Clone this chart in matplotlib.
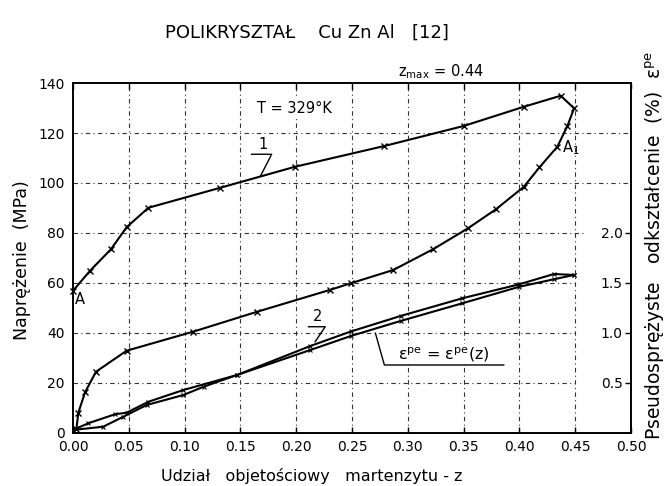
import matplotlib
matplotlib.use("Agg")
import matplotlib.pyplot as plt

# ---- data ----
x_ticks = [0.00, 0.05, 0.10, 0.15, 0.20, 0.25, 0.30, 0.35, 0.40, 0.45, 0.50]
x_tick_labels = ["0.00", "0.05", "0.10", "0.15", "0.20", "0.25", "0.30", "0.35", "0.40", "0.45", "0.50"]
y_ticks = [0, 20, 40, 60, 80, 100, 120, 140]
y2_ticks = [0.5, 1.0, 1.5, 2.0]
y2_tick_labels = ["0.5", "1.0", "1.5", "2.0"]

# curve 1: stress vs martensite fraction (loading then unloading)
z1 = [0.0, 0.0153, 0.034, 0.048, 0.0676, 0.132, 0.199, 0.279, 0.350, 0.404, 0.437,
      0.449, 0.443, 0.434, 0.418, 0.404, 0.379, 0.354, 0.323, 0.287, 0.249, 0.230,
      0.165, 0.1075, 0.048, 0.0206, 0.0108, 0.0048, 0.003]
s1 = [56.9, 64.9, 73.5, 82.3, 90.1, 98.1, 106.5, 114.8, 122.8, 130.5, 134.9,
      129.9, 122.8, 114.5, 106.3, 98.5, 89.5, 81.9, 73.6, 65.2, 59.9, 57.2,
      48.5, 40.5, 32.9, 24.5, 16.3, 8.1, 1.5]

# curve 2: pseudoelastic strain vs martensite fraction (two branches)
z2a = [0.0, 0.027, 0.045, 0.066, 0.099, 0.117, 0.147, 0.2127, 0.249, 0.2935, 0.349, 0.40, 0.431, 0.449]
e2a = [0.03, 0.0625, 0.1625, 0.28, 0.38, 0.4625, 0.58, 0.87, 1.015, 1.17, 1.3475, 1.4875, 1.59, 1.58]
z2b = [0.0, 0.0138, 0.0377, 0.048, 0.0676, 0.099, 0.147, 0.2127, 0.249, 0.2935, 0.349, 0.40, 0.431, 0.449]
e2b = [0.03, 0.0975, 0.1875, 0.2025, 0.3125, 0.43, 0.58, 0.83, 0.97, 1.12, 1.2975, 1.4625, 1.5375, 1.58]

plt.rcParams['font.family'] = ['DejaVu Sans']
fig = plt.figure(figsize=(6.71, 4.86), dpi=100)
ax = fig.add_axes([0.1088, 0.1091, 0.8316, 0.7201])
ax.set_xlim(0, 0.5)
ax.set_ylim(0, 140)
ax2 = ax.twinx()
ax2.set_ylim(0, 3.5)

grid_ls = (0, (4, 3, 1, 3))
for xv in x_ticks[1:-1]:
    ax.axvline(xv, ls=grid_ls, lw=0.8, color='0.2', zorder=1)
for yv in y_ticks[1:-1]:
    xm = 1.0 if yv >= 100 else (0.92 if yv == 80 else 0.9)
    ax.axhline(yv, xmax=xm, ls=grid_ls, lw=0.8, color='0.2', zorder=1)

# curves
ax.plot(z1, s1, color='black', lw=1.5, marker='x', ms=4.5, mew=1.0, clip_on=False, zorder=3)
ax2.plot(z2a, e2a, color='black', lw=1.5, marker='x', ms=2.5, mew=0.8, zorder=3)
ax2.plot(z2b, e2b, color='black', lw=1.5, marker='x', ms=2.5, mew=0.8, zorder=3)

# ticks
ax.set_xticks(x_ticks)
ax.set_xticklabels(x_tick_labels)
ax.set_yticks(y_ticks)
ax.tick_params(axis='x', direction='in', length=4, width=1, labelsize=10, pad=5, top=True, labeltop=False)
ax.tick_params(axis='y', length=0, labelsize=10, pad=6)
ax2.set_yticks(y2_ticks)
ax2.set_yticklabels(y2_tick_labels)
ax2.tick_params(axis='y', direction='in', length=4, width=1, labelsize=10, pad=-6)
for lab in ax2.get_yticklabels():
    lab.set_horizontalalignment('right')

for sp in ax.spines.values():
    sp.set_linewidth(1.2)
for sp in ax2.spines.values():
    sp.set_linewidth(1.2)

# annotations
ax.text(0.002, 53.5, "A", fontsize=10.5, ha='left', va='center')
ax.text(0.438, 114.3, "A$_1$", fontsize=10.5, ha='left', va='center')
ax.text(0.198, 130, "T = 329°K", fontsize=10.5, ha='center', va='center', zorder=4,
        bbox=dict(facecolor='white', edgecolor='none', pad=1))
ax.text(0.33, 144.5, "$\\mathregular{z_{max}}$ = 0.44", fontsize=10.5, ha='center', va='center', clip_on=False)

# leader "1"
ax.plot([0.160, 0.178, 0.168], [111.5, 111.5, 102.8], color='black', lw=1.0)
ax.text(0.170, 115.5, "1", fontsize=10.5, ha='center', va='center')
# leader "2"
ax.plot([0.211, 0.226, 0.217], [42.5, 42.5, 36.5], color='black', lw=1.0)
ax.text(0.219, 46.5, "2", fontsize=10.5, ha='center', va='center')
# leader eps
ax.plot([0.271, 0.279, 0.386], [39.9, 27.2, 27.2], color='black', lw=1.0)
ax.text(0.3325, 31.5, "ε$^{\\mathregular{pe}}$ = ε$^{\\mathregular{pe}}$(z)", fontsize=11.5, ha='center', va='center',
        zorder=4, bbox=dict(facecolor='white', edgecolor='none', pad=0.5))

# labels
fig.text(307 / 671, 1 - 33 / 486, "POLIKRYSZTAŁ    Cu Zn Al   [12]", fontsize=13, ha='center', va='center')
fig.text(312 / 671, 1 - 476 / 486, "Udział   objetościowy   martenzytu - z", fontsize=11.5, ha='center', va='center')
fig.text(22 / 671, 1 - 260 / 486, "Naprężenie  (MPa)", fontsize=12.5, ha='center', va='center', rotation=90)
fig.text(655 / 671, 1 - 245 / 486, "Pseudosprężyste   odkształcenie  (%)  ε$^{\\mathregular{pe}}$",
         fontsize=13.5, ha='center', va='center', rotation=90)

fig.savefig("out.png", dpi=100)
